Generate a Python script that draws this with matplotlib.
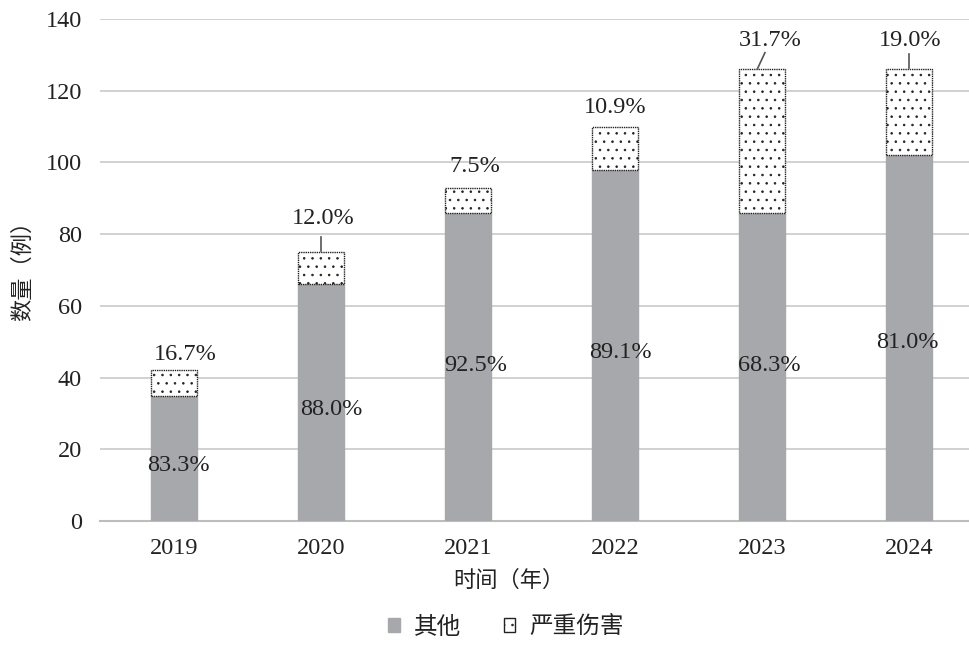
import matplotlib
matplotlib.use("Agg")
import matplotlib.pyplot as plt
from matplotlib.patches import Patch

plt.rcParams['font.family'] = ['Liberation Serif', 'Noto Sans CJK SC', 'DejaVu Sans']
plt.rcParams['hatch.linewidth'] = 0.6

years = ['2019', '2020', '2021', '2022', '2023', '2024']
other = [35, 66, 86, 98, 86, 102]
severe = [7, 9, 7, 12, 40, 24]
series_names = ['其他', '严重伤害']
yticks = [0, 20, 40, 60, 80, 100, 120, 140]

# label positions (data coords)
bottom_label_pos = [(0.03, 15.6), (1.07, 31.0), (2.05, 43.5), (3.04, 47.1), (4.05, 43.5), (4.99, 49.9)]
top_label_pos = [(0.075, 46.5), (1.014, 84.5), (2.048, 99.0), (3.0, 115.4), (4.054, 134.0), (5.007, 134.0)]

W, H = 969, 654
fig = plt.figure(figsize=(W / 100, H / 100), dpi=100)
ax = fig.add_axes([100 / W, 1 - 521 / H, 1 - 100 / W, (521 - 19) / H])

gray = '#a7a8ab'
x = list(range(len(years)))
ax.bar(x, other, width=0.31, color=gray, edgecolor=gray, zorder=3)
ax.bar(x, severe, width=0.31, bottom=other, color='white', edgecolor='#222222',
       hatch='..', linewidth=1.0, linestyle=(0, (1, 0.6)), zorder=3)

ax.set_xlim(-0.503, (W - 174) / 147)
ax.set_ylim(0, 140)
ax.set_yticks(yticks)
ax.set_xticks(x)
ax.set_xticklabels(years)
ax.tick_params(axis='both', length=0, labelsize=17.5, colors='#222222')
ax.tick_params(axis='y', pad=13)
ax.tick_params(axis='x', pad=12)
ax.grid(axis='y', color='#c9c9c9', linewidth=1.2, zorder=0)
for s in ['left', 'right', 'top']:
    ax.spines[s].set_visible(False)
ax.spines['bottom'].set_color('#bdbdbd')
ax.spines['bottom'].set_linewidth(1.5)

for i in range(len(years)):
    tot = other[i] + severe[i]
    bx, by = bottom_label_pos[i]
    ax.text(bx, by, f"{other[i] / tot * 100:.1f}%", ha='center', va='center',
            fontsize=17.5, color='#222222', zorder=5)
    tx, ty = top_label_pos[i]
    ax.text(tx, ty, f"{severe[i] / tot * 100:.1f}%", ha='center', va='center',
            fontsize=17.5, color='#222222', zorder=5)

# leader lines
ax.plot([1, 1], [75.3, 79.3], color='#555555', lw=1.2, zorder=4)
ax.plot([4.02, 3.97], [130.6, 126.2], color='#555555', lw=1.2, zorder=4)
ax.plot([5.0, 5.0], [130.2, 126.2], color='#555555', lw=1.2, zorder=4)

fig.text(509 / W, 1 - 580 / H, '时间（年）', ha='center', va='center', fontsize=16,
         color='#222222', family=['Noto Sans CJK SC'], weight='light')
fig.text(22 / W, 1 - 265 / H, '数量（例）', ha='center', va='center', fontsize=16,
         color='#222222', rotation=90, family=['Noto Sans CJK SC'], weight='light')

handles = [Patch(facecolor=gray, edgecolor=gray, label=series_names[0]),
           Patch(facecolor='white', edgecolor='#222222', hatch='..', label=series_names[1])]
leg = fig.legend(handles=handles, loc='center', bbox_to_anchor=(506 / W, 1 - 627 / H),
                 ncol=2, frameon=False, handlelength=0.5, handleheight=0.5,
                 handletextpad=0.6, columnspacing=1.8,
                 prop={'family': ['Noto Sans CJK SC'], 'size': 17, 'weight': 'light'})
for t in leg.get_texts():
    t.set_color('#222222')

fig.savefig('out.png', dpi=100)
